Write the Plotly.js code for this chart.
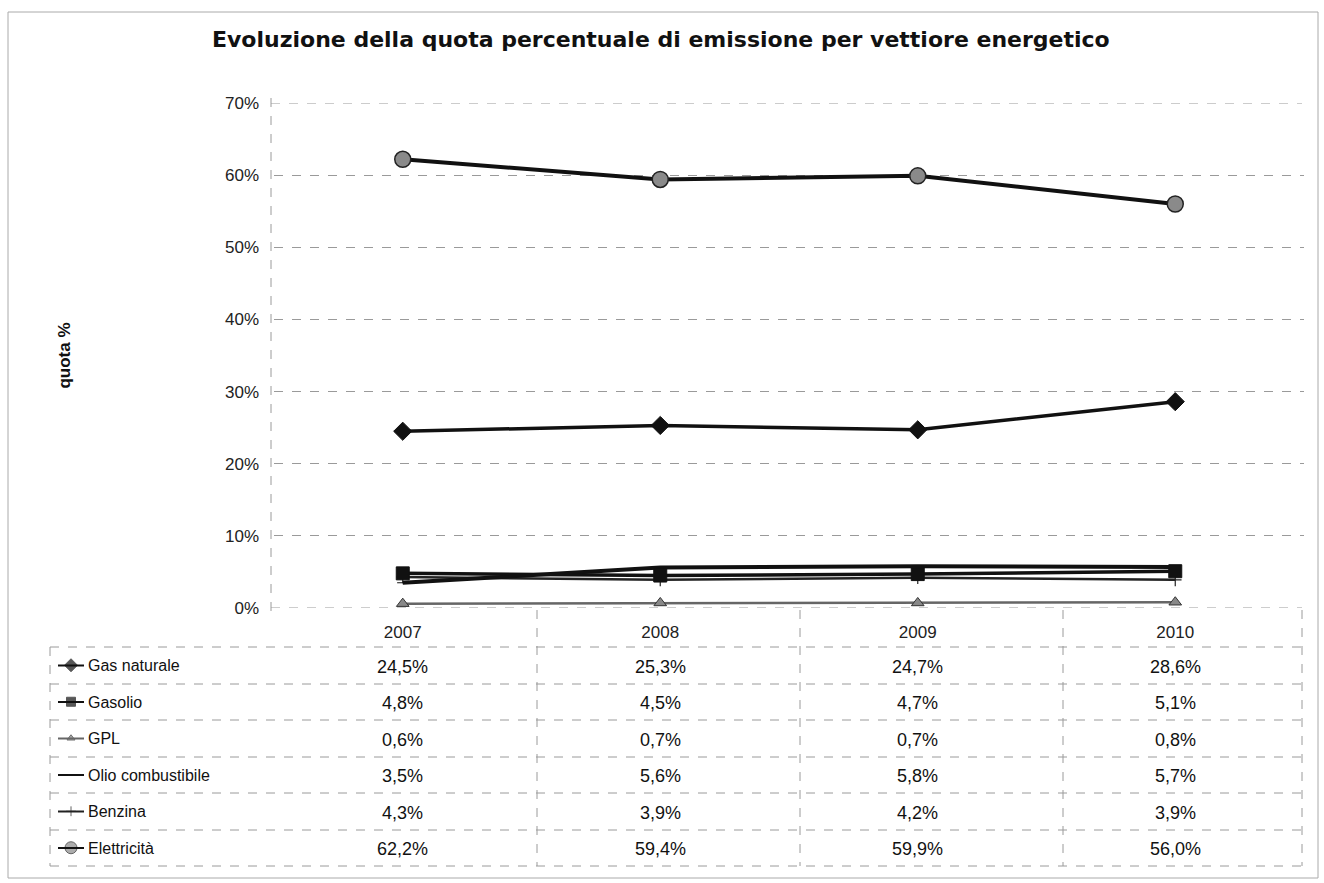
<!DOCTYPE html>
<html>
<head>
<meta charset="utf-8">
<script src="https://cdn.plot.ly/plotly-3.0.1.min.js"></script>
<style>html,body{margin:0;padding:0;background:#fff;}#chart{width:1324px;height:883px;}</style>
</head>
<body>
<div id="chart"></div>
<script>
const years = ['2007', '2008', '2009', '2010'];
const seriesNames = ['Gas naturale', 'Gasolio', 'GPL', 'Olio combustibile', 'Benzina', 'Elettricità'];
const gasNaturale = [24.5, 25.3, 24.7, 28.6];
const gasolio = [4.8, 4.5, 4.7, 5.1];
const gpl = [0.6, 0.7, 0.7, 0.8];
const olioCombustibile = [3.5, 5.6, 5.8, 5.7];
const benzina = [4.3, 3.9, 4.2, 3.9];
const elettricita = [62.2, 59.4, 59.9, 56.0];
const yTicks = [0, 10, 20, 30, 40, 50, 60, 70];

const allSeries = [gasNaturale, gasolio, gpl, olioCombustibile, benzina, elettricita];

// ---- styles ----
const styles = [
  {line: {color: '#111', width: 3.5}, marker: {symbol: 'diamond', size: 14, color: '#111', line: {color: '#111', width: 1}}},
  {line: {color: '#111', width: 3.5}, marker: {symbol: 'square', size: 13, color: '#111', line: {color: '#111', width: 1}}},
  {line: {color: '#666', width: 2.5}, marker: {symbol: 'triangle-up', size: 11, color: '#888', line: {color: '#333', width: 1}}},
  {line: {color: '#111', width: 4}, marker: {symbol: 'line-ew', size: 8, color: '#111', line: {color: '#111', width: 1}}},
  {line: {color: '#222', width: 2.5}, marker: {symbol: 'cross-thin', size: 9, color: '#222', line: {color: '#222', width: 1.2}}},
  {line: {color: '#111', width: 4}, marker: {symbol: 'circle', size: 16, color: '#8a8a8a', line: {color: '#222', width: 1.5}}}
];

// ---- geometry (pixel -> paper, margins are zero so paper = page) ----
const W = 1324, H = 883;
const L = 274, R = 1304, T = 103, B = 608;
const px = x => x / W;
const py = y => 1 - y / H;

const xIdx = years.map((_, i) => i);
const traces = allSeries.map((vals, k) => ({
  type: 'scatter', mode: 'lines+markers', name: seriesNames[k],
  x: xIdx, y: vals.map(v => v / 100),
  line: styles[k].line, marker: styles[k].marker,
  cliponaxis: false, showlegend: false, hoverinfo: 'skip'
}));
const order = [2, 4, 3, 1, 0, 5];
const data = order.map(i => traces[i]);

// ---- table geometry ----
const rowTops = [647, 684, 720, 757, 793, 830, 866];
const colEdges = [537, 800, 1063];
const tableLeft = 50, tableRight = 1302;
const gridCol = '#9a9a9a';
const tfont = 'Liberation Sans, Arial, sans-serif';

const shapes = [];
const dashLine = (x0, y0, x1, y1) => ({type: 'line', xref: 'paper', yref: 'paper', layer: 'below',
  x0: px(x0), x1: px(x1), y0: py(y0), y1: py(y1), line: {color: gridCol, width: 1, dash: 'dash'}});
shapes.push({type: 'rect', xref: 'paper', yref: 'paper', x0: px(8), x1: px(1318), y0: py(12), y1: py(878),
  line: {color: '#aaa', width: 1}, layer: 'below'});
shapes.push(dashLine(271, 98, 271, 620));
// gridlines at the range edges (0% and 70%)
[yTicks[0], yTicks[yTicks.length - 1]].forEach(v => shapes.push({type: 'line', xref: 'paper', yref: 'y', layer: 'below',
  x0: px(271), x1: px(tableRight), y0: v / 100, y1: v / 100, line: {color: gridCol, width: 1, dash: 'dash'}}));
rowTops.forEach(y => shapes.push(dashLine(tableLeft, y, tableRight, y)));
shapes.push(dashLine(tableLeft, 647, tableLeft, 866));
colEdges.forEach(x => shapes.push(dashLine(x, 610, x, 866)));
shapes.push(dashLine(tableRight, 610, tableRight, 866));

const annotations = [];
const rowCenters = seriesNames.map((_, k) => (rowTops[k] + rowTops[k + 1]) / 2);
seriesNames.forEach((name, k) => {
  const yc = rowCenters[k];
  shapes.push({type: 'line', xref: 'paper', yref: 'paper', x0: px(58), x1: px(84), y0: py(yc), y1: py(yc),
    line: {color: styles[k].line.color, width: 2}});
  annotations.push({xref: 'paper', yref: 'paper', x: px(86), y: py(yc), text: name, showarrow: false,
    xanchor: 'left', yanchor: 'middle', font: {family: tfont, size: 16, color: '#111'}});
  allSeries[k].forEach((v, i) => {
    annotations.push({xref: 'x', yref: 'paper', x: i, y: py(yc + 1), text: v.toFixed(1).replace('.', ',') + '%',
      showarrow: false, xanchor: 'center', yanchor: 'middle',
      font: {family: tfont, size: 18, color: '#111'}});
  });
});

// legend sample markers on a small helper axis in the legend column
data.push({
  type: 'scatter', mode: 'markers', xaxis: 'x2', yaxis: 'y2',
  x: seriesNames.map(() => 0), y: seriesNames.map((_, k) => k),
  marker: {
    symbol: styles.map(s => s.marker.symbol),
    size: styles.map(s => Math.max(7, s.marker.size - 4)),
    color: styles.map(s => s.marker.color),
    line: {color: styles.map(s => s.marker.line.color), width: 1}
  },
  showlegend: false, hoverinfo: 'skip', cliponaxis: false
});

annotations.push({xref: 'paper', yref: 'paper', x: px(661), y: py(39),
  text: '<b>Evoluzione della quota percentuale di emissione per vettiore energetico</b>',
  showarrow: false, xanchor: 'center', yanchor: 'middle',
  font: {family: 'DejaVu Sans, sans-serif', size: 22, color: '#111'}});

const layout = {
  width: W, height: H,
  margin: {l: 0, r: 0, t: 0, b: 0, pad: 0},
  paper_bgcolor: '#fff', plot_bgcolor: 'rgba(0,0,0,0)',
  showlegend: false,
  font: {family: tfont, color: '#222'},
  xaxis: {
    domain: [px(L), px(R)], anchor: 'y',
    range: [-0.5, 3.5], tickvals: xIdx, ticktext: years, showgrid: false, zeroline: false,
    showline: false, ticks: '', ticklabelstandoff: 12,
    tickfont: {family: tfont, size: 17, color: '#222'}
  },
  yaxis: {
    domain: [py(B), py(T)], anchor: 'x',
    range: [0, 0.7], tickvals: yTicks.map(v => v / 100), tickformat: '.0%',
    showgrid: true, gridcolor: gridCol, griddash: 'dash', gridwidth: 1,
    zeroline: false, showline: false, ticks: '', ticklabelstandoff: 14,
    tickfont: {family: tfont, size: 17, color: '#222'},
    title: {text: '<b>quota %</b>', font: {family: tfont, size: 17, color: '#111'}, standoff: 150}
  },
  xaxis2: {domain: [px(58), px(84)], range: [-1, 1], anchor: 'y2', visible: false},
  yaxis2: {domain: [py(rowTops[6]), py(rowTops[0])], range: [5.5, -0.5], anchor: 'x2', visible: false},
  shapes: shapes,
  annotations: annotations
};

Plotly.newPlot('chart', data, layout, {displayModeBar: false, staticPlot: true});
</script>
</body>
</html>
